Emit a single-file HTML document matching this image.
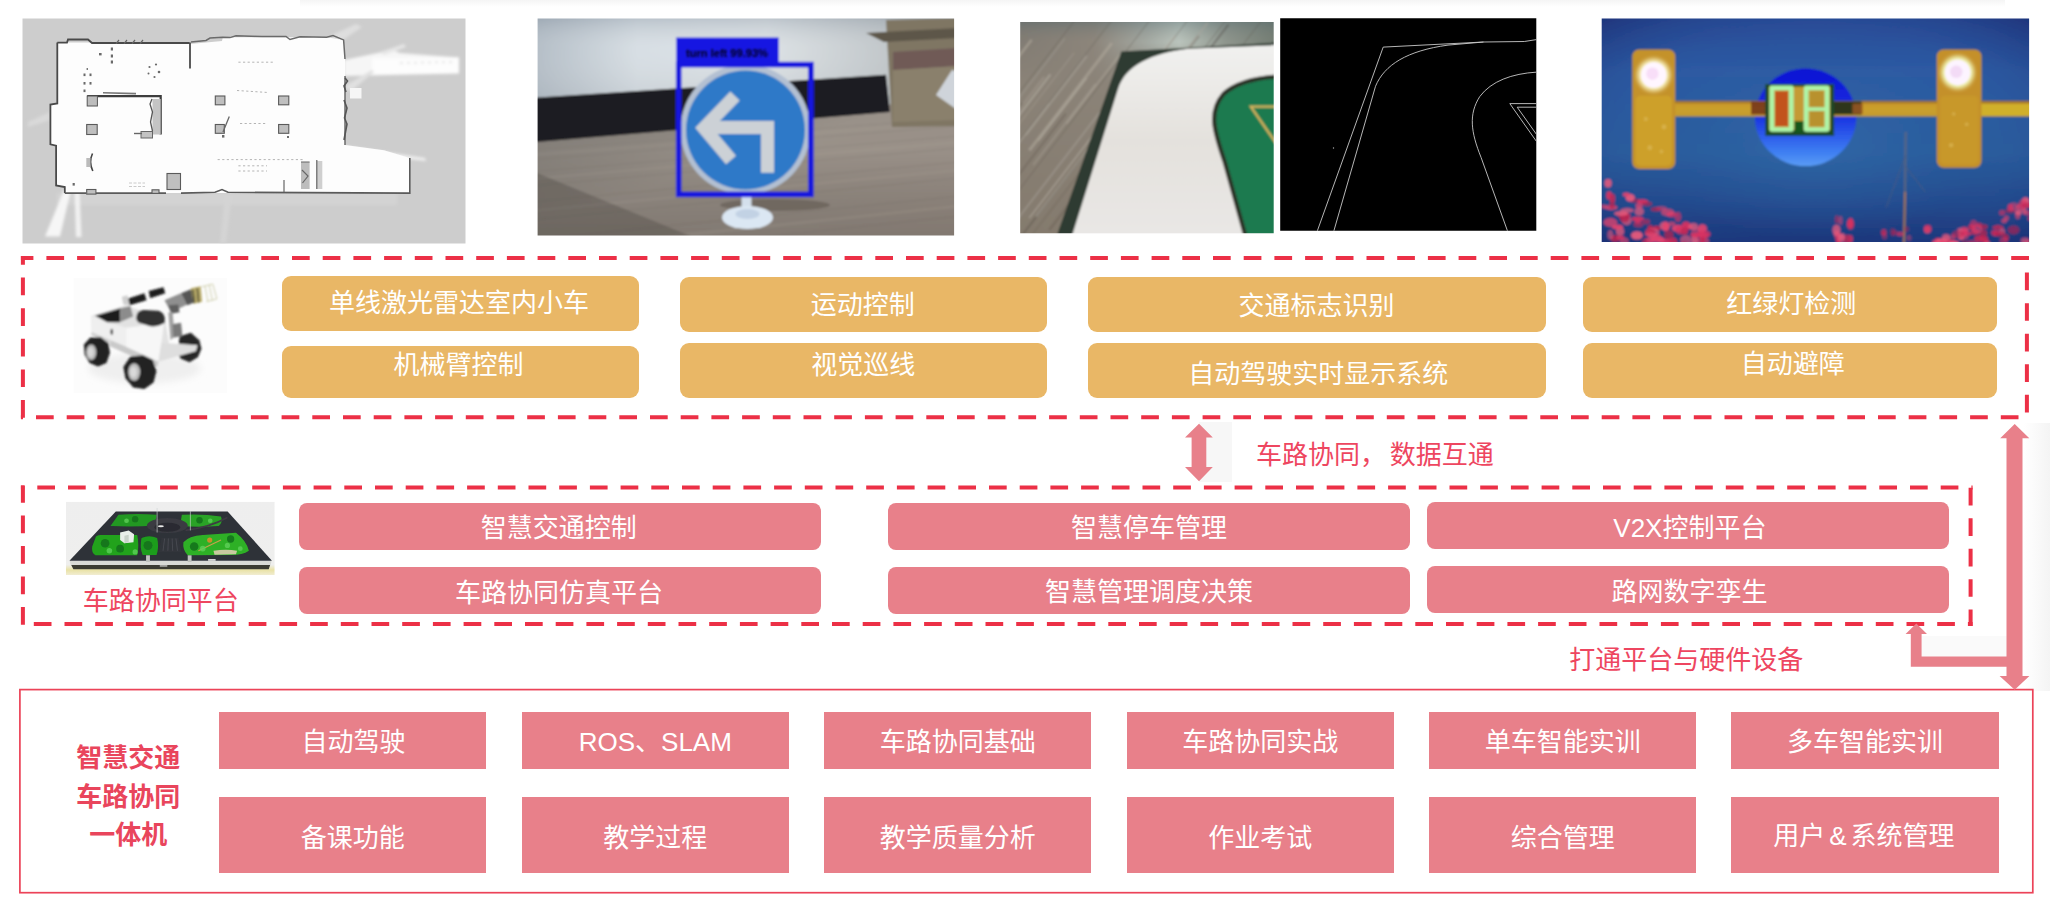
<!DOCTYPE html>
<html lang="zh-CN">
<head>
<meta charset="utf-8">
<title>智慧交通车路协同一体机</title>
<style>
html,body{margin:0;padding:0;background:#fff;}
body{width:2050px;height:924px;position:relative;overflow:hidden;
 font-family:"Liberation Sans","Noto Sans CJK SC",sans-serif;}
.abs{position:absolute;}
svg{position:absolute;display:block;overflow:hidden;}
.bx{position:absolute;color:#fff;font-size:26px;line-height:30px;text-align:center;white-space:nowrap;}
.bx span{position:absolute;left:0;right:0;height:30px;display:block;}
.y{background:#e9b766;border-radius:9px;}
.p{background:#e8808a;border-radius:8px;}
.c{background:#e8808a;}
.red{position:absolute;color:#ee4660;font-size:26px;line-height:30px;white-space:nowrap;}
.ttl{position:absolute;color:#e9455c;font-size:26px;line-height:38.5px;font-weight:700;text-align:center;white-space:nowrap;}
</style>
</head>
<body>

<!-- image 1: SLAM occupancy map -->
<svg style="left:22px;top:18px" width="444" height="226" viewBox="22 18 444 226">
<defs>
<clipPath id="c1"><rect x="22.5" y="18.5" width="443" height="225"/></clipPath>
<filter id="b1" x="-5%" y="-5%" width="110%" height="110%"><feGaussianBlur stdDeviation="0.7"/></filter>
<filter id="b1b" x="-5%" y="-5%" width="110%" height="110%"><feGaussianBlur stdDeviation="1.6"/></filter>
</defs>
<g clip-path="url(#c1)">
<rect x="22" y="18" width="444" height="226" fill="#cdcdcd"/>
<g filter="url(#b1b)">
 <rect x="57" y="193" width="340" height="12" fill="#d3d3d3"/>
 <polygon points="64,190 45,236.5 60,236.5 71,190" fill="#f6f6f6"/>
 <polygon points="74.5,190 76,237 81.5,237 79.5,190" fill="#f2f2f2"/>
 <polygon points="344,60 392,50 400,53 459,57.5 459,73.5 344,76" fill="#f6f6f6"/>
 <polygon points="372,58.5 459,57.5 459,73 372,74.5" fill="#fdfdfd"/>
 <path d="M400 63 L452 62" stroke="#dcdcdc" stroke-width="1.5" stroke-dasharray="3 4"/>
 <polygon points="330,36 356,24 362,27 340,42" fill="#dedede"/>
 <polygon points="380,52 404,44 406,47 384,55" fill="#e6e6e6"/>
 <polygon points="345,146 425,158 426,161 345,152" fill="#f0f0f0"/>
 <polygon points="345,86 372,70 374,72 350,92" fill="#e0e0e0"/>
 <polygon points="50,112 28,122 28,127 50,120" fill="#d9d9d9"/>
 <polygon points="225,195 232,195 226,243 220,243" fill="#d4d4d4"/>
</g>
<g filter="url(#b1)">
 <polygon points="57.3,42.6 189.5,42.6 190,44 222,41 222.8,37.3 326.7,37.3 343.6,39.9 345,59 345,145 384,150.3 409.8,158 409.8,193.1 64.8,193.1 64.8,187 56.1,185.5 56.1,145.7 50.4,144.4 50.4,104.6 57.3,103.4" fill="#fdfdfd"/>
 <rect x="350" y="88" width="11.5" height="10.5" fill="#f6f6f6"/>
 <!-- walls -->
 <path d="M57.3 42.6 L67 42.6 L68 39.5 L88 39.5 L92 43 L189.5 43 M190 42.6 L190 68.5 M57.3 42.6 L57.3 103.4 L50.4 104.6 L50.4 144.4 L56.1 145.7 L56.1 185.5 L64.8 187 L64.8 193.1" fill="none" stroke="#4a4a4a" stroke-width="1.8"/>
 <path d="M64.8 193.1 L86 193.1 M96 193.1 L166 193.1 M181 193.1 L215 192.3 L222 189.5 L228 192.3 L409.8 193.1 L409.8 158" fill="none" stroke="#5a5a5a" stroke-width="1.6"/>
 <path d="M191 42 L206 40.5 L210 38 L222.8 37.3 L230 37.6 L236 35.8 L262 36.5 L286 36.5 L290 39.5 L300 36.8 L326.7 37.3 L333 35.5 L343.6 39.9 L345 59 M345 76 L345 145" fill="none" stroke="#6a6a6a" stroke-width="1.5"/>
 <path d="M345 78 L347.5 81 L344 86 L346 92 M344 100 L347 108 L344.5 118 L347 124 L344 140" fill="none" stroke="#555" stroke-width="1.6"/>
 <!-- inner room -->
 <path d="M87.2 96.2 L160.7 96.2 L160.7 134.5" fill="none" stroke="#3c3c3c" stroke-width="2.2"/>
 <rect x="87.2" y="96" width="10.2" height="10" fill="#bdbdbd" stroke="#555" stroke-width="1"/>
 <rect x="152.5" y="99" width="8.2" height="35.5" fill="#c4c4c4"/>
 <path d="M152 99 L150 104 L152.5 112 L150.5 122 L152.5 131" fill="none" stroke="#555" stroke-width="1.3"/>
 <rect x="141" y="131.5" width="11.5" height="6.5" fill="#c2c2c2" stroke="#666" stroke-width="1"/>
 <path d="M134 133.5 L142 133.5" stroke="#666" stroke-width="1.4"/>
 <path d="M103 92.8 L136 93.6" stroke="#777" stroke-width="1.6"/>
 <!-- pillars -->
 <g fill="#bfbfbf" stroke="#5a5a5a" stroke-width="1.1">
  <rect x="86.7" y="124.5" width="10.5" height="10"/>
  <rect x="215.3" y="96" width="9.6" height="8.8"/>
  <rect x="215.3" y="124.5" width="9" height="8.8"/>
  <rect x="278.6" y="96" width="10.2" height="8.8"/>
  <rect x="278.6" y="124.5" width="10.2" height="8.8"/>
  <rect x="167" y="173.5" width="13.5" height="16"/>
  <rect x="86.7" y="189.5" width="9.2" height="4.6"/>
  <rect x="152" y="189.8" width="7" height="3.6"/>
 </g>
 <rect x="301" y="162" width="8.6" height="27" fill="#bdbdbd"/>
 <path d="M301 162 L309.6 162 M302 170 L308 176 L302.5 183" fill="none" stroke="#666" stroke-width="1.2"/>
 <rect x="316.5" y="161" width="5.8" height="28" fill="#cfcfcf"/>
 <path d="M316.8 160 L316.8 189" stroke="#666" stroke-width="1.2"/>
 <path d="M284 180 L284 192" stroke="#666" stroke-width="1.2"/>
 <!-- curved object -->
 <path d="M92.5 153.5 Q88.5 162 92.8 171" fill="none" stroke="#444" stroke-width="1.6"/>
 <rect x="86.3" y="158" width="4.2" height="9" fill="#bbb"/>
 <!-- small clutter -->
 <g fill="#6b6b6b">
  <circle cx="149.5" cy="67" r="1.1"/><circle cx="156" cy="64.5" r="1.1"/><circle cx="159" cy="72" r="1.3"/><circle cx="154.5" cy="77" r="1.1"/><circle cx="148.5" cy="73.5" r="1"/>
  <rect x="83.5" y="73.5" width="2" height="2.6"/><rect x="89.5" y="73.5" width="2" height="2.6"/><rect x="83.5" y="82" width="2" height="2.6"/><rect x="89.5" y="82" width="2" height="2.6"/><rect x="86.6" y="68" width="1.3" height="2"/><rect x="83.5" y="89.5" width="2" height="2.6"/>
  <rect x="110.8" y="47.5" width="2.2" height="3"/><rect x="110.8" y="54.5" width="2.2" height="3"/><rect x="110.8" y="60.5" width="2.2" height="3"/><rect x="99" y="53" width="2.6" height="2.4"/>
  <rect x="72.6" y="183" width="2.2" height="2.6"/>
  <rect x="222" y="135" width="2.4" height="2.6"/><rect x="287" y="136" width="2" height="2"/>
 </g>
 <path d="M229.3 116.5 L223 132" stroke="#666" stroke-width="1.3"/>
 <path d="M119 40 L116 43.6 M127 40 L124 43.6 M135 40 L132 43.6 M143 40 L140 43.6" stroke="#666" stroke-width="1.2"/>
 <g stroke="#b4b4b4" stroke-width="1" stroke-dasharray="2.2 2.4" fill="none">
  <path d="M217.6 159.6 L303 159.6"/><path d="M238.4 165.8 L267 165.8"/><path d="M238.4 171 L267 171"/><path d="M238.4 62.2 L275 62.2"/><path d="M237 90.5 L268 92.5"/><path d="M240 123.5 L266 123.5"/>
 </g>
 <path d="M129 183 L145 183 M129 186.5 L145 186.5" stroke="#c4c4c4" stroke-width="0.9" stroke-dasharray="3 1.5"/>
</g>
</g>
</svg>
<!-- image 2: traffic sign detection photo -->
<svg style="left:537px;top:18px" width="418" height="218" viewBox="537 18 418 218">
<defs>
<clipPath id="c2"><rect x="537.6" y="18.4" width="416.5" height="217.1"/></clipPath>
<filter id="b2" x="-5%" y="-5%" width="110%" height="110%"><feGaussianBlur stdDeviation="0.9"/></filter>
<linearGradient id="wall2" x1="0" x2="1" y1="0" y2="0"><stop offset="0" stop-color="#aab5bf"/><stop offset="0.25" stop-color="#d3dbe1"/><stop offset="0.55" stop-color="#d9dfe3"/><stop offset="0.85" stop-color="#b9bfc2"/><stop offset="1" stop-color="#9ea3a3"/></linearGradient>
<linearGradient id="wall2v" x1="0" x2="0" y1="0" y2="1"><stop offset="0" stop-color="#5b6a7c" stop-opacity="0.35"/><stop offset="0.35" stop-color="#ffffff" stop-opacity="0.1"/><stop offset="1" stop-color="#8d939a" stop-opacity="0.35"/></linearGradient>
<linearGradient id="fl2" x1="0" x2="1" y1="0" y2="1"><stop offset="0" stop-color="#77746f"/><stop offset="0.45" stop-color="#999189"/><stop offset="1" stop-color="#9a8f86"/></linearGradient>
<linearGradient id="fl2d" x1="0" x2="0" y1="0" y2="1"><stop offset="0" stop-color="#000" stop-opacity="0"/><stop offset="1" stop-color="#2a2622" stop-opacity="0.22"/></linearGradient>
</defs>
<g clip-path="url(#c2)">
<g filter="url(#b2)">
 <rect x="530" y="10" width="430" height="110" fill="url(#wall2)"/>
 <rect x="530" y="10" width="430" height="110" fill="url(#wall2v)"/>
 <polygon points="530,128 960,100 960,240 530,240" fill="url(#fl2)"/>
 <polygon points="530,150 960,150 960,240 530,240" fill="url(#fl2d)"/>
 <g fill="none" stroke="#6f675f" opacity="0.2"><path d="M530 150 L960 118" stroke-width="0.8"/><path d="M530 160 L960 126" stroke-width="0.9"/><path d="M530 172 L960 136" stroke-width="1.0"/><path d="M530 186 L960 148" stroke-width="1.1"/><path d="M530 202 L960 162" stroke-width="1.2"/><path d="M530 220 L960 178" stroke-width="1.3"/><path d="M530 240 L960 196" stroke-width="1.4"/><path d="M530 262 L960 216" stroke-width="1.5"/></g>
 <g fill="none" stroke="#b0a79b" opacity="0.18"><path d="M530 155 L960 122" stroke-width="1.6"/><path d="M530 179 L960 142" stroke-width="2.0"/><path d="M530 211 L960 170" stroke-width="2.4"/><path d="M530 251 L960 206" stroke-width="2.8"/></g>
 <polygon points="530,170 700,240 530,240" fill="#3a3632" opacity="0.28"/>
 <polygon points="530,98 886,74.8 890,112 530,142.5" fill="#1c1b20"/>
 <!-- cardboard box -->
 <polygon points="886,20 960,18 960,126 892,127" fill="#7f7664"/>
 <polygon points="866,33 960,28 960,38 884,42" fill="#5d564a"/>
 <polygon points="893,52 960,48 960,66 893,70" fill="#6f5a56"/>
 <polygon points="893,70 960,66 960,120 893,122" fill="#8a806c"/>
 <polygon points="936,95 952,70 960,72 960,112" fill="#cfd4da"/>
 <!-- sign shadow -->
 <ellipse cx="775" cy="205" rx="55" ry="6" fill="#5b544d" opacity="0.55"/>
 <!-- stand -->
 <rect x="741.5" y="196" width="10" height="20" fill="#d4e0ec"/>
 <ellipse cx="747.5" cy="217.5" rx="25.5" ry="11.5" fill="#dbe7f3"/>
 <ellipse cx="747.5" cy="214" rx="12" ry="5" fill="#c2d2e4"/>
 <!-- sign -->
 <circle cx="745.5" cy="129.5" r="65" fill="#b3c0d2"/>
 <circle cx="745.5" cy="130" r="59.5" fill="#2f79c8"/>
 <path d="M767.5 172.8 L767.5 127.5 L708 127.5 M735 96 L704 128 L731 160" fill="none" stroke="#ccd1d6" stroke-width="13" stroke-linejoin="miter"/>
 <!-- detection box -->
 <rect x="678.7" y="64.6" width="132.2" height="129.8" fill="none" stroke="#1414de" stroke-width="5.6"/>
 <rect x="676.2" y="37.5" width="102.5" height="27" fill="#1313e2"/>
</g>
<text x="686" y="57.3" font-family="'Liberation Sans',sans-serif" font-weight="700" font-size="10.4" fill="#05051e" textLength="82" lengthAdjust="spacingAndGlyphs" filter="url(#b2)">turn left 99.93%</text>
</g>
</svg>
<!-- image 3: track mat photo -->
<svg style="left:1020px;top:21px" width="254" height="213" viewBox="1020 21 254 213">
<defs>
<clipPath id="c3"><rect x="1020.2" y="22" width="253.5" height="211.3"/></clipPath>
<filter id="b3" x="-5%" y="-5%" width="110%" height="110%"><feGaussianBlur stdDeviation="0.8"/></filter>
<linearGradient id="wd3" x1="0" x2="1" y1="0" y2="0"><stop offset="0" stop-color="#7f7a72"/><stop offset="0.3" stop-color="#8d867c"/><stop offset="0.5" stop-color="#a9b1ab"/><stop offset="0.62" stop-color="#c3d0c9"/><stop offset="0.8" stop-color="#8e9890"/><stop offset="1" stop-color="#6d7a70"/></linearGradient>
<linearGradient id="wd3v" x1="0" x2="0" y1="0" y2="1"><stop offset="0" stop-color="#46616a" stop-opacity="0.55"/><stop offset="0.12" stop-color="#8b8378" stop-opacity="0.15"/><stop offset="0.3" stop-color="#8b8378" stop-opacity="0.95"/><stop offset="1" stop-color="#847a6d" stop-opacity="1"/></linearGradient>
<linearGradient id="wh3" x1="0" x2="0" y1="0" y2="1"><stop offset="0" stop-color="#f1f1ef"/><stop offset="0.5" stop-color="#e4e1dd"/><stop offset="1" stop-color="#e9e7e5"/></linearGradient>
</defs>
<g clip-path="url(#c3)"><g filter="url(#b3)">
 <rect x="1015" y="15" width="265" height="225" fill="url(#wd3)"/>
 <rect x="1015" y="15" width="265" height="225" fill="url(#wd3v)"/>
 <g fill="none">
  <path d="M1050.4 74.4 L964.4 186.2" stroke="#c0bbb0" stroke-width="2.3" opacity="0.43"/>
  <path d="M1203.8 66.9 L1098.2 204.0" stroke="#4f4a44" stroke-width="2.0" opacity="0.50"/>
  <path d="M1095.6 83.9 L1033.2 165.0" stroke="#c0bbb0" stroke-width="1.9" opacity="0.25"/>
  <path d="M1198.7 35.9 L1049.3 230.0" stroke="#5d564d" stroke-width="2.8" opacity="0.33"/>
  <path d="M1100.0 112.0 L1012.0 226.3" stroke="#a9a59b" stroke-width="1.9" opacity="0.49"/>
  <path d="M1065.8 113.6 L971.5 236.0" stroke="#5d564d" stroke-width="2.1" opacity="0.33"/>
  <path d="M1127.9 97.9 L1021.5 236.0" stroke="#665f55" stroke-width="2.3" opacity="0.41"/>
  <path d="M1111.8 43.2 L1029.3 150.4" stroke="#b3ab9f" stroke-width="2.9" opacity="0.55"/>
  <path d="M1175.1 36.3 L1036.1 216.8" stroke="#c0bbb0" stroke-width="2.3" opacity="0.46"/>
  <path d="M1022.4 103.2 L920.1 236.0" stroke="#5d564d" stroke-width="2.1" opacity="0.44"/>
  <path d="M1119.9 54.4 L1066.5 123.7" stroke="#b3ab9f" stroke-width="1.6" opacity="0.48"/>
  <path d="M1228.6 24.4 L1116.2 170.5" stroke="#4f4a44" stroke-width="2.3" opacity="0.42"/>
  <path d="M1221.3 47.9 L1149.7 140.9" stroke="#5d564d" stroke-width="1.2" opacity="0.43"/>
  <path d="M1031.7 39.7 L941.5 156.8" stroke="#b3ab9f" stroke-width="2.5" opacity="0.54"/>
  <path d="M1087.0 56.0 L1025.9 135.4" stroke="#a9a59b" stroke-width="2.0" opacity="0.41"/>
  <path d="M1135.8 79.6 L1029.3 217.9" stroke="#c0bbb0" stroke-width="1.6" opacity="0.44"/>
  <path d="M1125.3 113.6 L1032.0 234.9" stroke="#665f55" stroke-width="2.2" opacity="0.25"/>
  <path d="M1086.7 78.0 L1038.3 140.8" stroke="#c0bbb0" stroke-width="1.3" opacity="0.44"/>
  <path d="M1086.0 55.3 L946.8 236.0" stroke="#a9a59b" stroke-width="2.6" opacity="0.26"/>
  <path d="M1001.3 87.6 L887.0 236.0" stroke="#665f55" stroke-width="1.7" opacity="0.43"/>
  <path d="M1064.8 38.5 L936.8 204.7" stroke="#a9a59b" stroke-width="1.7" opacity="0.36"/>
  <path d="M1207.8 22.7 L1100.3 162.4" stroke="#a9a59b" stroke-width="2.1" opacity="0.45"/>
  <path d="M1074.0 52.8 L954.7 207.7" stroke="#b3ab9f" stroke-width="1.2" opacity="0.35"/>
  <path d="M1049.2 103.4 L955.8 224.7" stroke="#b3ab9f" stroke-width="1.2" opacity="0.47"/>
  <path d="M1044.2 76.8 L968.8 174.7" stroke="#b3ab9f" stroke-width="2.2" opacity="0.31"/>
  <path d="M1152.9 103.8 L1086.9 189.5" stroke="#4f4a44" stroke-width="1.2" opacity="0.44"/>
  <path d="M1075 20 L908.7 236" stroke="#5a544b" stroke-width="0.9" opacity="0.5"/>
  <path d="M1112 20 L945.7 236" stroke="#5a544b" stroke-width="0.9" opacity="0.5"/>
  <path d="M1150 20 L983.7 236" stroke="#5a544b" stroke-width="0.9" opacity="0.5"/>
  <path d="M1188 20 L1021.7 236" stroke="#5a544b" stroke-width="0.9" opacity="0.5"/>
  <path d="M1226 20 L1059.7 236" stroke="#5a544b" stroke-width="0.9" opacity="0.5"/>
  <path d="M1262 20 L1095.7 236" stroke="#5a544b" stroke-width="0.9" opacity="0.5"/>
  <path d="M1300 20 L1133.7 236" stroke="#5a544b" stroke-width="0.9" opacity="0.5"/>
  <path d="M1340 20 L1173.7 236" stroke="#5a544b" stroke-width="0.9" opacity="0.5"/>
 </g>
 <path d="M1121.4 51.5 L1275.8 42.6 L1275.8 46.9 L1188.0 50.2 C1152.4 54.5 1127.0 66.0 1119.4 90.1 L1073.6 235.1 L1057.0 235.1 Z" fill="#2e3a31"/>
 <path d="M1275.8 45.1 L1188.0 48.7 C1152.4 53.2 1125.7 64.7 1118.1 88.8 L1072.3 235.1 L1245.2 235.1 L1224.9 162.6 C1213.5 129.5 1208.4 111.7 1223.6 93.9 C1236.3 82.5 1254.2 78.2 1275.8 76.6 Z" fill="url(#wh3)"/>
 <path d="M1275.8 76.6 C1254.2 78.2 1236.3 82.5 1223.6 93.9 C1208.4 111.7 1213.5 129.5 1224.9 162.6 L1245.2 235.1 L1275.8 235.1 Z" fill="#1c7a50"/>
 <path d="M1275.8 76.6 C1254.2 78.2 1236.3 82.5 1223.6 93.9 C1208.4 111.7 1213.5 129.5 1224.9 162.6 L1245.2 235.1" fill="none" stroke="#2b3328" stroke-width="4.2"/>
 <path d="M1275.8 106.6 L1250.8 106.6 L1275.8 142.8" fill="none" stroke="#d6b35c" stroke-width="2.2"/>
</g></g>
</svg>
<!-- image 4: edge detection -->
<svg style="left:1280px;top:18px" width="257" height="213" viewBox="1280 18 257 213">
<defs><clipPath id="c4"><rect x="1280.2" y="18.2" width="256.1" height="212.6"/></clipPath>
<filter id="b4" x="-5%" y="-5%" width="110%" height="110%"><feGaussianBlur stdDeviation="0.45"/></filter></defs>
<g clip-path="url(#c4)">
 <rect x="1275" y="12" width="270" height="225" fill="#000"/>
 <g filter="url(#b4)" fill="none" stroke="#c9c9c9" stroke-width="0.9">
  <path d="M1317.0 231.8 L1383.2 47.1 L1483.6 42.0 L1524.3 41.5 L1537.0 39.5"/><path d="M1333.6 231.8 L1375.5 86.3 C1384.4 64.7 1407.3 50.7 1448.0 45.1 L1483.6 42.0"/><path d="M1537.0 72.1 C1511.6 73.6 1491.3 81.2 1479.8 96.5 C1468.4 114.3 1470.9 132.1 1481.1 157.5 L1507.8 231.8"/><path d="M1537.0 103.6 L1509.8 103.6 L1537.0 142.2"/><path d="M1537.0 107.2 L1517.2 107.2 L1537.0 135.1"/>
  <circle cx="1333.5" cy="148" r="0.7" fill="#aaa" stroke="none"/>
 </g>
</g>
</svg>
<!-- image 5: traffic light detection -->
<svg style="left:1601px;top:18px" width="429" height="225" viewBox="1601 18 429 225">
<defs>
<clipPath id="c5"><rect x="1601.7" y="18.6" width="427.4" height="223.4"/></clipPath>
<filter id="b5" x="-5%" y="-5%" width="110%" height="110%"><feGaussianBlur stdDeviation="0.9"/></filter>
<filter id="b5g" x="-50%" y="-50%" width="200%" height="200%"><feGaussianBlur stdDeviation="2.2"/></filter>
<linearGradient id="sky5" x1="0" x2="0" y1="0" y2="1"><stop offset="0" stop-color="#2a4a97"/><stop offset="0.25" stop-color="#2d5aa3"/><stop offset="0.6" stop-color="#2a5c9c"/><stop offset="0.8" stop-color="#234a8c"/><stop offset="1" stop-color="#1a2f74"/></linearGradient>
<radialGradient id="vig5" cx="0.5" cy="0.55" r="0.75"><stop offset="0" stop-color="#3572ae" stop-opacity="0.55"/><stop offset="0.55" stop-color="#2c5ba0" stop-opacity="0.1"/><stop offset="1" stop-color="#141f62" stop-opacity="0.65"/></radialGradient>
<linearGradient id="disc5" x1="0" x2="0" y1="0" y2="1"><stop offset="0" stop-color="#0c10d4"/><stop offset="0.5" stop-color="#1a34e2"/><stop offset="0.85" stop-color="#3d7df2"/><stop offset="1" stop-color="#5a9cf5"/></linearGradient>
<linearGradient id="gold5" x1="0" x2="0" y1="0" y2="1"><stop offset="0" stop-color="#c9922a"/><stop offset="0.5" stop-color="#caa02c"/><stop offset="1" stop-color="#c49a30"/></linearGradient>
</defs>
<g clip-path="url(#c5)"><g filter="url(#b5)">
 <rect x="1595" y="12" width="440" height="236" fill="url(#sky5)"/>
 <rect x="1595" y="12" width="440" height="236" fill="url(#vig5)"/>
 <!-- tree trunk -->
 <path d="M1905.7 132.1 L1904.4 243.8" stroke="#6a6a78" stroke-width="2.2" opacity="0.7"/>
 <path d="M1905.7 155.5 L1886.2 207.5 M1905.1 165.9 L1925.2 191.9" stroke="#4a5a80" stroke-width="1.4" opacity="0.6" fill="none"/>
 <path d="M1905.1 191.9 L1903.8 243.8" stroke="#b07848" stroke-width="2" opacity="0.75"/>
  <ellipse cx="1634.9" cy="200.6" rx="5.6" ry="2.3" fill="#b82450" opacity="0.6329455146788888"/>
  <ellipse cx="1661.5" cy="240.4" rx="3.6" ry="2.3" fill="#e85a7c" opacity="0.6244493982511166"/>
  <ellipse cx="1611.0" cy="207.6" rx="6.5" ry="2.5" fill="#e2446e" opacity="0.8207190705061079"/>
  <ellipse cx="1661.5" cy="208.5" rx="5.3" ry="2.2" fill="#e2446e" opacity="0.6163039382162147"/>
  <ellipse cx="1689.8" cy="227.1" rx="3.3" ry="2.4" fill="#c22a58" opacity="0.7960900469544844"/>
  <ellipse cx="1671.7" cy="214.6" rx="5.3" ry="2.7" fill="#d83262" opacity="0.7917105629983452"/>
  <ellipse cx="1608.1" cy="183.3" rx="3.6" ry="4.2" fill="#e85a7c" opacity="0.8720300712432825"/>
  <ellipse cx="1649.5" cy="240.5" rx="4.3" ry="2.9" fill="#e2446e" opacity="0.8446480518053499"/>
  <ellipse cx="1626.7" cy="220.4" rx="5.1" ry="4.8" fill="#e85a7c" opacity="0.7007782177115652"/>
  <ellipse cx="1702.3" cy="228.6" rx="4.6" ry="4.4" fill="#e2446e" opacity="0.9266445742632231"/>
  <ellipse cx="1645.0" cy="242.1" rx="3.0" ry="3.8" fill="#c22a58" opacity="0.7190428267669184"/>
  <ellipse cx="1637.6" cy="218.9" rx="6.3" ry="2.3" fill="#d83262" opacity="0.930638383287778"/>
  <ellipse cx="1650.3" cy="229.3" rx="2.9" ry="4.3" fill="#b82450" opacity="0.9475835788133219"/>
  <ellipse cx="1686.0" cy="225.7" rx="4.4" ry="4.2" fill="#d83262" opacity="0.9292269983261328"/>
  <ellipse cx="1638.2" cy="224.6" rx="4.9" ry="2.8" fill="#c22a58" opacity="0.6452690777065394"/>
  <ellipse cx="1627.1" cy="210.4" rx="6.7" ry="2.3" fill="#e85a7c" opacity="0.7405754897170064"/>
  <ellipse cx="1630.2" cy="197.8" rx="4.6" ry="3.8" fill="#e85a7c" opacity="0.945263478350415"/>
  <ellipse cx="1671.8" cy="223.7" rx="3.7" ry="2.3" fill="#e2446e" opacity="0.6811849033868375"/>
  <ellipse cx="1625.6" cy="215.2" rx="5.4" ry="2.9" fill="#d83262" opacity="0.6509867373602932"/>
  <ellipse cx="1656.6" cy="228.2" rx="4.1" ry="2.5" fill="#b82450" opacity="0.9325783823889304"/>
  <ellipse cx="1668.9" cy="235.0" rx="4.7" ry="4.8" fill="#b82450" opacity="0.737332617411944"/>
  <ellipse cx="1642.6" cy="201.6" rx="5.6" ry="2.3" fill="#d83262" opacity="0.9446336602648132"/>
  <ellipse cx="1646.9" cy="203.8" rx="5.4" ry="2.4" fill="#b82450" opacity="0.6529427262977998"/>
  <ellipse cx="1612.1" cy="204.2" rx="2.7" ry="4.8" fill="#b82450" opacity="0.7316802766322543"/>
  <ellipse cx="1666.8" cy="242.3" rx="5.4" ry="3.6" fill="#d83262" opacity="0.8971279242696152"/>
  <ellipse cx="1703.6" cy="235.0" rx="4.9" ry="2.3" fill="#d83262" opacity="0.8623858721548507"/>
  <ellipse cx="1677.7" cy="228.4" rx="5.8" ry="3.7" fill="#e2446e" opacity="0.9328449505061457"/>
  <ellipse cx="1655.9" cy="209.3" rx="5.1" ry="2.2" fill="#b82450" opacity="0.704331391621198"/>
  <ellipse cx="1667.7" cy="212.4" rx="6.6" ry="3.7" fill="#e2446e" opacity="0.7244936594380309"/>
  <ellipse cx="1624.6" cy="218.1" rx="4.9" ry="4.1" fill="#b82450" opacity="0.8840289363707582"/>
  <ellipse cx="1702.8" cy="241.3" rx="6.4" ry="4.6" fill="#e2446e" opacity="0.6699712941883024"/>
  <ellipse cx="1652.3" cy="232.5" rx="7.2" ry="4.5" fill="#e85a7c" opacity="0.6907110271437148"/>
  <ellipse cx="1672.8" cy="242.4" rx="4.7" ry="5.0" fill="#c22a58" opacity="0.9342502209624666"/>
  <ellipse cx="1639.1" cy="205.8" rx="3.7" ry="2.7" fill="#e2446e" opacity="0.7689286557467523"/>
  <ellipse cx="1702.8" cy="237.2" rx="2.6" ry="4.9" fill="#c22a58" opacity="0.879875310697381"/>
  <ellipse cx="1610.4" cy="222.4" rx="6.9" ry="4.5" fill="#e2446e" opacity="0.7673114606079001"/>
  <ellipse cx="1620.0" cy="231.5" rx="4.2" ry="4.6" fill="#e85a7c" opacity="0.7621061890608474"/>
  <ellipse cx="1678.0" cy="216.9" rx="3.3" ry="5.2" fill="#d83262" opacity="0.6529027451335214"/>
  <ellipse cx="1694.6" cy="239.7" rx="3.3" ry="4.7" fill="#e85a7c" opacity="0.830043902457607"/>
  <ellipse cx="1637.7" cy="221.5" rx="3.2" ry="2.1" fill="#d83262" opacity="0.7843033664846694"/>
  <ellipse cx="1697.5" cy="232.7" rx="6.7" ry="4.7" fill="#e2446e" opacity="0.6097978039692504"/>
  <ellipse cx="1623.5" cy="215.6" rx="6.2" ry="3.1" fill="#b82450" opacity="0.7466543934640902"/>
  <ellipse cx="1615.1" cy="238.4" rx="4.3" ry="3.5" fill="#b82450" opacity="0.8852664613463272"/>
  <ellipse cx="1654.7" cy="236.7" rx="6.7" ry="2.5" fill="#e2446e" opacity="0.7832273049555082"/>
  <ellipse cx="1603.6" cy="206.5" rx="3.5" ry="2.1" fill="#e2446e" opacity="0.6603213492747071"/>
  <ellipse cx="1650.3" cy="231.9" rx="5.2" ry="3.1" fill="#b82450" opacity="0.7857542242437947"/>
  <ellipse cx="1651.2" cy="234.3" rx="6.7" ry="2.3" fill="#e2446e" opacity="0.6969209746626736"/>
  <ellipse cx="1680.9" cy="230.1" rx="5.2" ry="4.4" fill="#d83262" opacity="0.7551369377521036"/>
  <ellipse cx="1664.6" cy="226.0" rx="5.0" ry="4.2" fill="#e85a7c" opacity="0.7778546540934584"/>
  <ellipse cx="1684.5" cy="231.0" rx="3.8" ry="3.7" fill="#c22a58" opacity="0.9229744746970372"/>
  <ellipse cx="1693.3" cy="226.5" rx="4.7" ry="3.4" fill="#e85a7c" opacity="0.7547413308962653"/>
  <ellipse cx="1609.1" cy="195.4" rx="2.9" ry="4.2" fill="#d83262" opacity="0.9139592515075683"/>
  <ellipse cx="1617.5" cy="226.9" rx="5.7" ry="2.5" fill="#e2446e" opacity="0.9386406739332342"/>
  <ellipse cx="1624.2" cy="241.2" rx="4.5" ry="3.6" fill="#e2446e" opacity="0.6565131209583077"/>
  <ellipse cx="1646.0" cy="221.8" rx="4.2" ry="2.7" fill="#c22a58" opacity="0.6322679091450034"/>
  <ellipse cx="1639.2" cy="211.5" rx="4.7" ry="4.3" fill="#e85a7c" opacity="0.7160242611996966"/>
  <ellipse cx="1665.7" cy="226.5" rx="2.9" ry="5.1" fill="#e2446e" opacity="0.9400935855264759"/>
  <ellipse cx="1612.4" cy="198.2" rx="2.8" ry="4.5" fill="#c22a58" opacity="0.8645217917512689"/>
  <ellipse cx="1685.8" cy="240.0" rx="5.8" ry="5.0" fill="#e85a7c" opacity="0.6522787815914274"/>
  <ellipse cx="1696.0" cy="235.1" rx="5.9" ry="2.4" fill="#d83262" opacity="0.879855643517315"/>
  <ellipse cx="1620.5" cy="237.7" rx="3.9" ry="2.1" fill="#d83262" opacity="0.8805700070499864"/>
  <ellipse cx="1610.3" cy="234.7" rx="2.9" ry="4.8" fill="#e85a7c" opacity="0.6040412159167462"/>
  <ellipse cx="1703.7" cy="234.2" rx="6.9" ry="4.0" fill="#d83262" opacity="0.7844202592845101"/>
  <ellipse cx="1626.2" cy="194.6" rx="3.4" ry="2.2" fill="#e2446e" opacity="0.9262864109813969"/>
  <ellipse cx="1666.2" cy="227.3" rx="3.6" ry="3.5" fill="#e2446e" opacity="0.6946828281242426"/>
  <ellipse cx="1684.2" cy="243.7" rx="2.8" ry="2.1" fill="#b82450" opacity="0.7928671948039387"/>
  <ellipse cx="1621.1" cy="213.5" rx="7.0" ry="2.4" fill="#e85a7c" opacity="0.829778304124255"/>
  <ellipse cx="1657.7" cy="239.4" rx="7.1" ry="3.0" fill="#e2446e" opacity="0.9438541891451789"/>
  <ellipse cx="1636.9" cy="235.4" rx="5.9" ry="4.1" fill="#e85a7c" opacity="0.9463033234450464"/>
  <ellipse cx="1702.5" cy="241.0" rx="2.7" ry="4.0" fill="#c22a58" opacity="0.7507592477436086"/>
  <ellipse cx="1940.9" cy="242.2" rx="3.8" ry="3.4" fill="#c22a58" opacity="0.7595724447427282"/>
  <ellipse cx="2002.1" cy="212.7" rx="3.1" ry="2.8" fill="#d83262" opacity="0.6421350734490863"/>
  <ellipse cx="2028.0" cy="242.6" rx="4.5" ry="2.7" fill="#c22a58" opacity="0.6262530500054685"/>
  <ellipse cx="1953.1" cy="236.8" rx="2.7" ry="2.8" fill="#e2446e" opacity="0.6368627881754747"/>
  <ellipse cx="2010.2" cy="210.9" rx="5.5" ry="2.5" fill="#b82450" opacity="0.5645834351919035"/>
  <ellipse cx="1937.7" cy="241.3" rx="3.2" ry="3.6" fill="#b82450" opacity="0.8486366246841045"/>
  <ellipse cx="1950.5" cy="242.8" rx="5.4" ry="3.6" fill="#c22a58" opacity="0.8022370449800431"/>
  <ellipse cx="1983.1" cy="226.7" rx="4.7" ry="2.5" fill="#b82450" opacity="0.7695662435161743"/>
  <ellipse cx="2006.1" cy="237.4" rx="2.9" ry="3.4" fill="#b82450" opacity="0.7489678248184037"/>
  <ellipse cx="2013.7" cy="206.7" rx="5.0" ry="4.2" fill="#e2446e" opacity="0.5797820960052772"/>
  <ellipse cx="1939.6" cy="242.2" rx="6.1" ry="3.1" fill="#e85a7c" opacity="0.7454845362735771"/>
  <ellipse cx="1995.9" cy="232.7" rx="5.0" ry="3.3" fill="#d83262" opacity="0.7099319836437266"/>
  <ellipse cx="1942.3" cy="243.4" rx="5.8" ry="2.3" fill="#b82450" opacity="0.5731176246777532"/>
  <ellipse cx="2006.4" cy="218.1" rx="2.6" ry="2.8" fill="#e2446e" opacity="0.6307576444666089"/>
  <ellipse cx="1998.0" cy="227.3" rx="5.6" ry="2.3" fill="#c22a58" opacity="0.818439537036133"/>
  <ellipse cx="1994.9" cy="233.4" rx="2.6" ry="2.5" fill="#c22a58" opacity="0.7780370265999886"/>
  <ellipse cx="2002.2" cy="231.5" rx="2.9" ry="3.3" fill="#e85a7c" opacity="0.6440704680262368"/>
  <ellipse cx="2000.1" cy="234.1" rx="5.0" ry="2.8" fill="#b82450" opacity="0.6499402397322058"/>
  <ellipse cx="1980.3" cy="238.5" rx="6.2" ry="3.5" fill="#c22a58" opacity="0.8923440078649595"/>
  <ellipse cx="2025.5" cy="201.5" rx="4.1" ry="4.2" fill="#e85a7c" opacity="0.8978884364964816"/>
  <ellipse cx="1972.7" cy="242.2" rx="6.0" ry="2.3" fill="#d83262" opacity="0.5996092372508359"/>
  <ellipse cx="1985.9" cy="242.6" rx="2.9" ry="4.2" fill="#b82450" opacity="0.6478487637668979"/>
  <ellipse cx="1946.4" cy="239.1" rx="4.3" ry="4.4" fill="#e85a7c" opacity="0.5586920410817329"/>
  <ellipse cx="1935.9" cy="242.4" rx="4.1" ry="2.9" fill="#e2446e" opacity="0.6956634180276546"/>
  <ellipse cx="1971.7" cy="227.2" rx="3.6" ry="2.9" fill="#c22a58" opacity="0.8436887781276616"/>
  <ellipse cx="1947.1" cy="243.3" rx="5.1" ry="4.4" fill="#c22a58" opacity="0.6386242757013268"/>
  <ellipse cx="1941.8" cy="240.5" rx="5.7" ry="2.3" fill="#e85a7c" opacity="0.8144797377012993"/>
  <ellipse cx="2017.7" cy="215.4" rx="2.5" ry="3.8" fill="#e2446e" opacity="0.6372636507441365"/>
  <ellipse cx="1961.1" cy="236.9" rx="3.1" ry="3.0" fill="#e85a7c" opacity="0.8594932944339064"/>
  <ellipse cx="2013.6" cy="229.9" rx="5.9" ry="4.5" fill="#b82450" opacity="0.6212025348234952"/>
  <ellipse cx="1943.3" cy="243.4" rx="3.9" ry="3.7" fill="#e2446e" opacity="0.7755717486464798"/>
  <ellipse cx="1963.1" cy="229.6" rx="6.0" ry="2.4" fill="#e85a7c" opacity="0.6952033279112131"/>
  <ellipse cx="1962.6" cy="232.8" rx="5.2" ry="3.8" fill="#e85a7c" opacity="0.7795983641112801"/>
  <ellipse cx="1964.5" cy="236.9" rx="3.9" ry="2.5" fill="#e2446e" opacity="0.5763097075578226"/>
  <ellipse cx="1983.7" cy="239.3" rx="4.5" ry="3.3" fill="#c22a58" opacity="0.8987662897686418"/>
  <ellipse cx="1978.8" cy="224.8" rx="3.1" ry="2.3" fill="#c22a58" opacity="0.7445559306583034"/>
  <ellipse cx="1966.2" cy="233.5" rx="5.5" ry="2.6" fill="#d83262" opacity="0.8123801626616376"/>
  <ellipse cx="1975.2" cy="231.8" rx="4.4" ry="3.1" fill="#c22a58" opacity="0.8132388511428299"/>
  <ellipse cx="1983.4" cy="233.5" rx="3.7" ry="3.9" fill="#b82450" opacity="0.7703694170460788"/>
  <ellipse cx="2018.5" cy="212.5" rx="3.4" ry="2.7" fill="#e85a7c" opacity="0.7760270994607392"/>
  <ellipse cx="1977.1" cy="229.2" rx="5.5" ry="4.6" fill="#e2446e" opacity="0.5612852226854858"/>
  <ellipse cx="2003.7" cy="240.4" rx="4.2" ry="3.6" fill="#d83262" opacity="0.5755982588010459"/>
  <ellipse cx="2025.0" cy="240.7" rx="4.4" ry="3.3" fill="#e85a7c" opacity="0.6369628490812147"/>
  <ellipse cx="1946.0" cy="237.6" rx="4.4" ry="3.9" fill="#e85a7c" opacity="0.5797511830406288"/>
  <ellipse cx="2010.2" cy="207.7" rx="2.8" ry="3.6" fill="#d83262" opacity="0.775927021728885"/>
  <ellipse cx="1964.7" cy="230.1" rx="3.3" ry="3.7" fill="#d83262" opacity="0.5848056746618686"/>
  <ellipse cx="1964.4" cy="242.9" rx="3.1" ry="2.8" fill="#b82450" opacity="0.5504032083128511"/>
  <ellipse cx="1987.2" cy="243.7" rx="3.4" ry="2.9" fill="#e2446e" opacity="0.7163564770236402"/>
  <ellipse cx="1958.1" cy="234.2" rx="6.1" ry="3.9" fill="#c22a58" opacity="0.5693580501349687"/>
  <ellipse cx="1954.2" cy="242.6" rx="4.9" ry="2.3" fill="#e2446e" opacity="0.7835742670931879"/>
  <ellipse cx="2024.5" cy="210.9" rx="2.5" ry="3.0" fill="#e85a7c" opacity="0.6768119621194776"/>
  <ellipse cx="1973.6" cy="224.2" rx="3.5" ry="4.3" fill="#d83262" opacity="0.6218265054635217"/>
  <ellipse cx="2028.8" cy="213.2" rx="5.5" ry="2.7" fill="#e2446e" opacity="0.6427576844853518"/>
  <ellipse cx="2021.0" cy="207.2" rx="4.8" ry="3.7" fill="#e2446e" opacity="0.7197684582021846"/>
  <ellipse cx="2023.1" cy="204.2" rx="4.7" ry="4.5" fill="#d83262" opacity="0.6245321762432907"/>
  <ellipse cx="2029.2" cy="205.4" rx="2.5" ry="2.2" fill="#e85a7c" opacity="0.7073746875998272"/>
  <ellipse cx="2004.0" cy="220.9" rx="2.8" ry="2.3" fill="#e2446e" opacity="0.6652349659557584"/>
  <ellipse cx="1953.4" cy="243.1" rx="5.2" ry="2.2" fill="#e85a7c" opacity="0.8436944498185759"/>
  <ellipse cx="2030.2" cy="218.6" rx="2.8" ry="2.3" fill="#d83262" opacity="0.67301340100962"/>
  <ellipse cx="2027.4" cy="205.3" rx="6.1" ry="2.6" fill="#c22a58" opacity="0.8190562295731214"/>
  <ellipse cx="1838.0" cy="238.7" rx="2.3" ry="4.8" fill="#e2446e" opacity="0.6304500362987455"/>
  <ellipse cx="1850.7" cy="222.9" rx="2.8" ry="5.4" fill="#d83262" opacity="0.7210817440880882"/>
  <ellipse cx="1836.8" cy="234.1" rx="2.9" ry="3.8" fill="#e85a7c" opacity="0.5219029801425958"/>
  <ellipse cx="1850.7" cy="224.5" rx="3.6" ry="5.4" fill="#c22a58" opacity="0.6270410008379081"/>
  <ellipse cx="1838.6" cy="242.6" rx="2.2" ry="4.9" fill="#c22a58" opacity="0.8234798259770171"/>
  <ellipse cx="1837.8" cy="236.6" rx="3.3" ry="5.1" fill="#d83262" opacity="0.5084898467295349"/>
  <ellipse cx="1836.5" cy="230.2" rx="4.1" ry="5.6" fill="#e85a7c" opacity="0.7764296001781998"/>
  <ellipse cx="1850.6" cy="239.0" rx="2.4" ry="4.1" fill="#d83262" opacity="0.7808989131887978"/>
  <ellipse cx="1847.0" cy="239.2" rx="3.7" ry="4.5" fill="#c22a58" opacity="0.8014348299193537"/>
  <ellipse cx="1841.2" cy="238.2" rx="3.3" ry="4.2" fill="#e85a7c" opacity="0.7635099847315109"/>
  <ellipse cx="1836.8" cy="219.5" rx="2.1" ry="4.3" fill="#c22a58" opacity="0.5562423351637238"/>
  <ellipse cx="1840.5" cy="220.6" rx="2.2" ry="4.5" fill="#e2446e" opacity="0.5337479024929634"/>
  <ellipse cx="1842.0" cy="236.3" rx="3.0" ry="3.3" fill="#e85a7c" opacity="0.6613233180128609"/>
  <ellipse cx="1850.1" cy="223.9" rx="3.2" ry="5.0" fill="#d83262" opacity="0.772912707137353"/>
  <ellipse cx="1894.7" cy="232.6" rx="2.8" ry="2.6" fill="#c22a58" opacity="0.4796760363560848"/>
  <ellipse cx="1892.6" cy="232.1" rx="2.5" ry="3.9" fill="#b82450" opacity="0.4753000537345944"/>
  <ellipse cx="1884.0" cy="232.2" rx="2.7" ry="3.2" fill="#d83262" opacity="0.6613306208369604"/>
  <ellipse cx="1927.3" cy="229.8" rx="3.3" ry="3.8" fill="#e85a7c" opacity="0.7657502215322146"/>
  <ellipse cx="1882.9" cy="232.8" rx="2.4" ry="2.5" fill="#b82450" opacity="0.4776646433179788"/>
  <ellipse cx="1884.5" cy="236.2" rx="2.5" ry="3.3" fill="#d83262" opacity="0.44231202494340327"/>
  <ellipse cx="1908.9" cy="237.9" rx="2.6" ry="2.8" fill="#e2446e" opacity="0.41766661168329844"/>
  <ellipse cx="1927.7" cy="228.8" rx="4.0" ry="4.0" fill="#d83262" opacity="0.7275332430817164"/>
  <ellipse cx="1900.1" cy="234.0" rx="3.7" ry="2.2" fill="#d83262" opacity="0.7181124672163285"/>
  <ellipse cx="1906.6" cy="229.2" rx="2.3" ry="2.9" fill="#b82450" opacity="0.46182086658233984"/>
 <!-- disc -->
 <ellipse cx="1805.6" cy="117.3" rx="50.7" ry="48.8" fill="url(#disc5)"/>
 <!-- bar -->
 <rect x="1673.1" y="100.9" width="358.5" height="15.6" fill="url(#gold5)"/>
 <rect x="1673.1" y="100.9" width="358.5" height="2.3" fill="#7a5a20" opacity="0.55"/>
 <rect x="1979.7" y="104.1" width="52.0" height="11.7" fill="#d0b02a"/>
 <rect x="1751.1" y="101.5" width="18.2" height="13.0" fill="#6b2a1c" opacity="0.8"/>
 <rect x="1832.9" y="101.5" width="28.6" height="13.0" fill="#1c2a1e" opacity="0.9"/>
 <rect x="1852.4" y="103.5" width="10.4" height="10.4" fill="#a05a20" opacity="0.8"/>
 <!-- light housings -->
 <rect x="1632.3" y="49.5" width="42.9" height="119.5" rx="7" fill="#c4922a"/>
 <rect x="1635.5" y="95.7" width="36.4" height="70.1" rx="5" fill="#cfa42c" opacity="0.8"/>
 <rect x="1936.8" y="49.5" width="44.7" height="118.2" rx="7" fill="#c4902a"/>
 <rect x="1940.0" y="95.7" width="38.5" height="68.8" rx="5" fill="#c99a2a" opacity="0.8"/>
 <g fill="#e0c060" opacity="0.55">
  <circle cx="1645.9" cy="119.1" r="2"/><circle cx="1664.0" cy="126.9" r="2.4"/><circle cx="1649.8" cy="147.7" r="2.4"/><circle cx="1661.4" cy="151.6" r="1.8"/>
  <circle cx="1951.1" cy="145.1" r="2.2"/><circle cx="1966.7" cy="124.3" r="1.8"/><circle cx="1953.7" cy="113.9" r="1.6"/>
 </g>
 <!-- display -->
 <rect x="1765.3" y="84.0" width="68.8" height="51.9" fill="#1a4a26"/>
 <rect x="1769.2" y="86.6" width="61.0" height="43.5" fill="#c49a34"/>
 <rect x="1775.1" y="91.2" width="13.0" height="35.1" fill="#c2521e"/>
 <rect x="1810.1" y="91.2" width="13.6" height="35.1" fill="#b8912e"/>
 <rect x="1794.5" y="121.0" width="9.1" height="11.7" fill="#14581f"/>
 <g fill="none" stroke="#aef5a8" stroke-width="4.7" stroke-linejoin="round">
  <rect x="1771.8" y="87.9" width="19.5" height="41.6"/>
  <rect x="1806.2" y="87.9" width="20.8" height="41.6"/>
  <path d="M1806.9 109.1 L1826.4 109.1" stroke-width="3.6"/>
 </g>
</g>
 <!-- lamps -->
 <g filter="url(#b5g)">
  <circle cx="1653.7" cy="75.0" r="16.6" fill="#f3e8b0"/>
  <circle cx="1957.6" cy="72.4" r="16.6" fill="#eef0b0"/>
 </g>
 <g filter="url(#b5)">
  <circle cx="1653.7" cy="75.0" r="13.0" fill="#fff6ff"/>
  <circle cx="1957.6" cy="72.4" r="13.0" fill="#fdf4ff"/>
  <circle cx="1652.4" cy="73.7" r="6.2" fill="#f6d8f6" opacity="0.8"/>
  <circle cx="1956.3" cy="71.8" r="6.2" fill="#f0d4f4" opacity="0.8"/>
 </g>
</g>
</svg>
<!-- IMAGES-TOP -->

<!-- frames, arrows -->
<svg id="frames" style="left:0;top:0" width="2050" height="924" viewBox="0 0 2050 924">
  <linearGradient id="topsh" x1="0" x2="0" y1="0" y2="1"><stop offset="0" stop-color="#f5f5f5"/><stop offset="1" stop-color="#ffffff"/></linearGradient>
  <rect x="300" y="0" width="1705" height="7" fill="url(#topsh)"/>
  <!-- faint shadows -->
  <rect x="1199" y="422" width="33" height="60" fill="#f7f7f7"/>
  <linearGradient id="gsh" x1="0" x2="1" y1="0" y2="0"><stop offset="0" stop-color="#ffffff"/><stop offset="1" stop-color="#f4f4f4"/></linearGradient>
  <rect x="2024" y="423" width="26" height="268" fill="url(#gsh)"/>
  <rect x="1922" y="636" width="85" height="21" fill="#fafafa"/>
  <!-- dashed frame 1 -->
  <g fill="none" stroke="#ec3046" stroke-width="4">
  <path d="M20.9 258 L2028.9 258" stroke-dasharray="17.7 13.00" stroke-dashoffset="5.20"/>
  <path d="M2026.9 256 L2026.9 419.2" stroke-dasharray="17.7 12.85" stroke-dashoffset="13.95"/>
  <path d="M20.9 417.2 L2028.9 417.2" stroke-dasharray="17.7 13.00" stroke-dashoffset="15.60"/>
  <path d="M22.9 256 L22.9 419.2" stroke-dasharray="17.7 12.90" stroke-dashoffset="9.00"/>
  </g>
  <!-- dashed frame 2 -->
  <g fill="none" stroke="#ec3046" stroke-width="4">
  <path d="M20.9 487.6 L1972.6 487.6" stroke-dasharray="17.7 13.00" stroke-dashoffset="14.30"/>
  <path d="M1970.6 485.6 L1970.6 625.9" stroke-dasharray="17.7 12.75" stroke-dashoffset="28.25"/>
  <path d="M20.9 623.9 L1972.6 623.9" stroke-dasharray="17.7 13.00" stroke-dashoffset="17.80"/>
  <path d="M22.9 485.6 L22.9 625.9" stroke-dasharray="17.7 12.80" stroke-dashoffset="0.60"/>
  </g>
  <!-- bottom frame -->
  <rect x="19.9" y="689.6" width="2012.9" height="203.1" fill="none" stroke="#ec4358" stroke-width="1.7"/>
  <!-- double arrow small -->
  <path d="M1199 423.8 L1212.8 437.4 L1206.3 437.4 L1206.3 467 L1212.8 467 L1199 481.3 L1185 467 L1191.6 467 L1191.6 437.4 L1185 437.4 Z" fill="#e8808a"/>
  <!-- long double arrow -->
  <path d="M2014.7 424 L2029.3 438.3 L2022.5 438.3 L2022.5 676 L2029.4 676 L2014.7 689.8 L1999.6 676 L2006.5 676 L2006.5 666.8 L1910.8 666.8 L1910.8 634 L1905.6 634 L1916.3 623.6 L1927 634 L1921.6 634 L1921.6 656.4 L2006.5 656.4 L2006.5 438.3 L2000.2 438.3 Z" fill="#e8808a"/>
</svg>

<!-- robot car -->
<svg style="left:60px;top:270px" width="190" height="130" viewBox="0 0 1350 923.7">
<defs>
<filter id="bc" x="-5%" y="-5%" width="110%" height="110%"><feGaussianBlur stdDeviation="6"/></filter>
<filter id="bcs" x="-20%" y="-20%" width="140%" height="140%"><feGaussianBlur stdDeviation="28"/></filter>
<clipPath id="cc"><rect x="95" y="55" width="1092" height="822"/></clipPath>
</defs>
<g clip-path="url(#cc)">
 <rect x="95" y="55" width="1092" height="822" fill="#fcfcfc"/>
 <g filter="url(#bcs)"><ellipse cx="600" cy="700" rx="400" ry="105" fill="#efefef"/></g>
 <g filter="url(#bc)">
  <!-- far right wheel -->
  <path d="M850 470 L930 445 L990 500 L1005 560 L980 620 L920 655 L860 630 L835 600 Z" fill="#262626"/>
  <!-- far rear-left wheel hint -->
  <!-- body -->
  <path d="M222 325 L470 250 L520 270 L745 335 L775 520 L975 535 L965 575 L700 650 L470 545 L360 500 L225 440 Z" fill="#e2e2e2"/>
  <path d="M222 325 L225 440 L360 500 L470 545 L470 410 L390 385 Z" fill="#efefef"/>
  <path d="M360 500 L470 545 L700 650 L690 690 L460 590 L350 540 Z" fill="#c9c9c9"/>
  <path d="M470 410 L470 545 L700 650 L720 520 L745 335 L560 400 Z" fill="#f7f7f7"/>
  <path d="M720 520 L975 535 L965 575 L700 650 Z" fill="#dedede"/>
  <!-- bed black -->
  <path d="M250 325 L430 272 L425 372 L335 372 Z" fill="#1f1f1f"/>
  <path d="M430 272 L500 255 L520 330 L425 372 Z" fill="#8c8c8c"/>
  <!-- top bars -->
  <path d="M478 205 L600 165 L615 215 L495 250 Z" fill="#1d1d1d"/>
  <path d="M630 150 L735 122 L748 165 L640 200 Z" fill="#1d1d1d"/>
  <path d="M440 190 L480 180 L495 250 L450 245 Z" fill="#cfcfcf"/>
  <!-- lidar -->
  <path d="M548 310 Q560 285 600 285 L700 290 Q735 300 745 340 L745 375 Q700 405 640 400 L560 375 Q530 350 548 310 Z" fill="#333"/>
  <!-- arm -->
  <path d="M742 215 L860 165 L905 245 L790 300 Z" fill="#8f8f8f"/>
  <path d="M770 250 L840 245 L850 300 L790 310 Z" fill="#5e5e5e"/>
  <path d="M860 165 L935 135 L965 225 L905 250 Z" fill="#555"/>
  <path d="M770 300 L800 300 L815 470 L785 500 Z" fill="#a0a0a0"/>
  <path d="M800 385 L860 375 L870 470 L805 480 Z" fill="#7a7a7a"/>
  <!-- gripper -->
  <path d="M930 130 L1000 115 L1010 225 L950 240 Z" fill="#b9ac6a"/>
  <path d="M945 140 L955 235 M975 130 L985 230" stroke="#3a3a2a" stroke-width="10" fill="none"/>
  <path d="M1005 120 L1085 100 L1115 205 L1040 225 M1030 112 L1050 222 M1060 105 L1082 215" stroke="#cfcfae" stroke-width="7" fill="none"/>
  <!-- body details -->
  <ellipse cx="368" cy="440" rx="9" ry="22" fill="#222"/>
  <path d="M225 440 L360 500 L350 520 L220 462 Z" fill="#cfcfcf"/>
  <!-- left wheel -->
  <path d="M215 480 L290 478 L345 520 L355 590 L330 660 L270 685 L210 660 L175 600 L170 530 Z" fill="#242424"/>
  <ellipse cx="222" cy="585" rx="36" ry="55" fill="#bdbdbd"/>
  <ellipse cx="218" cy="585" rx="20" ry="34" fill="#d8d8d8"/>
  <!-- front wheel -->
  <path d="M500 615 L590 605 L660 640 L685 720 L665 800 L600 845 L520 835 L465 770 L450 690 Z" fill="#222"/>
  <ellipse cx="527" cy="725" rx="42" ry="62" fill="#bfbfbf"/>
  <ellipse cx="522" cy="725" rx="24" ry="38" fill="#dadada"/>
 </g>
</g>
</svg>

<!-- platform sandbox -->
<svg style="left:60px;top:495px" width="220" height="85" viewBox="0 0 2050 792">
<defs>
<filter id="bp" x="-5%" y="-5%" width="110%" height="110%"><feGaussianBlur stdDeviation="7"/></filter>
<clipPath id="cp"><rect x="55" y="62" width="1946" height="684"/></clipPath>
<linearGradient id="pbg" x1="0" x2="0" y1="0" y2="1"><stop offset="0" stop-color="#eeeeee"/><stop offset="0.86" stop-color="#efefee"/><stop offset="0.93" stop-color="#e9e2a6"/><stop offset="1" stop-color="#f1edd2"/></linearGradient>
</defs>
<g clip-path="url(#cp)">
 <rect x="55" y="62" width="1946" height="684" fill="url(#pbg)"/>
 <g filter="url(#bp)">
  <polygon points="90,612 1972,612 1962,652 100,652" fill="#d9dad6"/>
  <polygon points="105,652 1958,652 1945,692 125,692" fill="#3a3a32"/>
  <polygon points="520,153 1562,153 1975,612 88,612" fill="#2d3138"/>
  <!-- greens -->
  <path d="M545 185 Q720 170 900 185 L885 285 Q690 300 470 290 Z" fill="#239822"/>
  <path d="M1135 185 Q1330 175 1500 200 Q1520 250 1480 290 Q1290 300 1120 290 Z" fill="#2aa326"/>
  <path d="M330 400 Q330 375 380 372 L720 372 Q740 470 720 562 L330 562 Q290 540 300 480 Z" fill="#20a21c"/>
  <path d="M760 400 Q830 370 905 400 Q925 480 900 560 L770 560 Q740 480 760 400 Z" fill="#1f9c1c"/>
  <path d="M1150 440 Q1200 380 1330 372 L1640 352 Q1740 430 1760 520 Q1700 560 1600 560 L1190 562 Q1140 510 1150 440 Z" fill="#2fb028"/>
  <path d="M1430 520 Q1550 500 1650 520 L1640 552 L1440 556 Z" fill="#c9c9a0"/>
  <path d="M1290 520 L1500 420" stroke="#c9a04a" stroke-width="10"/>
  <circle cx="1395" cy="420" r="24" fill="#c7902c"/>
  <g fill="#5ed05a" opacity="0.8"><circle cx="460" cy="520" r="26"/><circle cx="700" cy="530" r="24"/><circle cx="1330" cy="500" r="26"/><circle cx="1560" cy="470" r="24"/><circle cx="620" cy="240" r="22"/><circle cx="1400" cy="240" r="22"/><circle cx="1680" cy="500" r="22"/></g>
  <g fill="#11701a" opacity="0.85"><circle cx="420" cy="450" r="40"/><circle cx="560" cy="500" r="36"/><circle cx="820" cy="470" r="42"/><circle cx="1250" cy="480" r="40"/><circle cx="1590" cy="410" r="34"/><circle cx="700" cy="225" r="30"/><circle cx="1300" cy="235" r="30"/></g>
  <!-- centre roundabout + roads -->
  <ellipse cx="1000" cy="285" rx="190" ry="70" fill="#3a3b42"/>
  <ellipse cx="1000" cy="300" rx="120" ry="42" fill="#2a2b30"/>
  <ellipse cx="940" cy="292" rx="28" ry="9" fill="#e8e8e8"/>
  <polygon points="945,395 1105,395 1135,530 920,530" fill="#32343a"/>
  <path d="M975 405 L960 520 M1010 405 L1005 520 M1045 405 L1050 520 M1080 405 L1095 520" stroke="#4a4c54" stroke-width="8"/>
  <path d="M1170 330 Q1400 300 1560 210" stroke="#3f3a44" stroke-width="16" fill="none"/>
  <!-- building -->
  <polygon points="560,350 640,330 690,365 685,440 600,450 560,420" fill="#e9efe9"/>
  <polygon points="600,380 640,370 640,440 600,450" fill="#c9d3c9"/>
  <!-- poles -->
  <path d="M905 120 L905 350 M1215 150 L1215 330" stroke="#cfd4d4" stroke-width="7" opacity="0.85"/>
  <rect x="802" y="562" width="36" height="62" fill="#bfc2be"/>
  <rect x="1190" y="562" width="36" height="62" fill="#bfc2be"/>
  <rect x="1380" y="597" width="70" height="16" fill="#e4e4e4"/>
  <rect x="930" y="655" width="70" height="12" fill="#cfcfcf"/>
 </g>
</g>
</svg>


<!-- yellow boxes -->
<div class="bx y" style="left:282px;top:275.7px;width:357px;height:55.3px"><span style="top:12px;left:-3px">单线激光雷达室内小车</span></div>
<div class="bx y" style="left:282px;top:345.8px;width:357px;height:52.6px"><span style="top:4px;left:-4px">机械臂控制</span></div>
<div class="bx y" style="left:680px;top:276.6px;width:366.7px;height:55.4px"><span style="top:13.5px;left:-1px">运动控制</span></div>
<div class="bx y" style="left:680px;top:343px;width:366.7px;height:55.4px"><span style="top:7px;left:0px">视觉巡线</span></div>
<div class="bx y" style="left:1088px;top:276.6px;width:458px;height:55.4px"><span style="top:14.6px;left:-1px">交通标志识别</span></div>
<div class="bx y" style="left:1088px;top:343px;width:458px;height:55.4px"><span style="top:16px;left:2.5px">自动驾驶实时显示系统</span></div>
<div class="bx y" style="left:1583px;top:276.6px;width:414px;height:55.4px"><span style="top:12.6px;left:2.5px">红绿灯检测</span></div>
<div class="bx y" style="left:1583px;top:343px;width:414px;height:55.4px"><span style="top:6px;left:5.6px">自动避障</span></div>

<!-- pink boxes -->
<div class="bx p" style="left:299px;top:503.3px;width:522px;height:46.7px"><span style="top:9.4px;left:-2.5px">智慧交通控制</span></div>
<div class="bx p" style="left:299px;top:567px;width:522px;height:46.5px"><span style="top:11px;left:-2px">车路协同仿真平台</span></div>
<div class="bx p" style="left:888px;top:503.3px;width:522.2px;height:46.7px"><span style="top:9.4px">智慧停车管理</span></div>
<div class="bx p" style="left:888px;top:567px;width:522.2px;height:46.5px"><span style="top:9.8px">智慧管理调度决策</span></div>
<div class="bx p" style="left:1427px;top:501.8px;width:521.8px;height:47px"><span style="top:10.9px;left:4px">V2X控制平台</span></div>
<div class="bx p" style="left:1427px;top:565.5px;width:521.8px;height:47px"><span style="top:11.3px;left:3px">路网数字孪生</span></div>

<!-- red labels -->
<div class="red" style="left:1256px;top:440px;word-spacing:-3.5px">车路协同， 数据互通</div>
<div class="red" style="left:82.7px;top:586px">车路协同平台</div>
<div class="red" style="left:1569.2px;top:644.6px">打通平台与硬件设备</div>

<!-- bottom title -->
<div class="ttl" style="left:58.3px;top:739.2px;width:140px">智慧交通<br>车路协同<br>一体机</div>

<!-- bottom cells -->
<div class="bx c" style="left:219px;top:712.3px;width:267.4px;height:56.3px"><span style="top:14.5px;left:1.6px">自动驾驶</span></div>
<div class="bx c" style="left:521.6px;top:712.3px;width:267.4px;height:56.3px"><span style="top:14.5px">ROS、SLAM</span></div>
<div class="bx c" style="left:824.1px;top:712.3px;width:267.4px;height:56.3px"><span style="top:14.5px">车路协同基础</span></div>
<div class="bx c" style="left:1126.6px;top:712.3px;width:267.4px;height:56.3px"><span style="top:14.5px">车路协同实战</span></div>
<div class="bx c" style="left:1429px;top:712.3px;width:267.4px;height:56.3px"><span style="top:14.5px">单车智能实训</span></div>
<div class="bx c" style="left:1731.3px;top:712.3px;width:267.4px;height:56.3px"><span style="top:14.5px">多车智能实训</span></div>
<div class="bx c" style="left:219px;top:797.1px;width:267.4px;height:75.8px"><span style="top:26.2px">备课功能</span></div>
<div class="bx c" style="left:521.6px;top:797.1px;width:267.4px;height:75.8px"><span style="top:25.6px">教学过程</span></div>
<div class="bx c" style="left:824.1px;top:797.1px;width:267.4px;height:75.8px"><span style="top:25.6px">教学质量分析</span></div>
<div class="bx c" style="left:1126.6px;top:797.1px;width:267.4px;height:75.8px"><span style="top:25.6px">作业考试</span></div>
<div class="bx c" style="left:1429px;top:797.1px;width:267.4px;height:75.8px"><span style="top:25.6px">综合管理</span></div>
<div class="bx c" style="left:1731.3px;top:797.1px;width:267.4px;height:75.8px"><span style="top:24px;left:-2.2px">用户<i style="font-style:normal;margin:0 4px">&amp;</i>系统管理</span></div>

</body>
</html>
